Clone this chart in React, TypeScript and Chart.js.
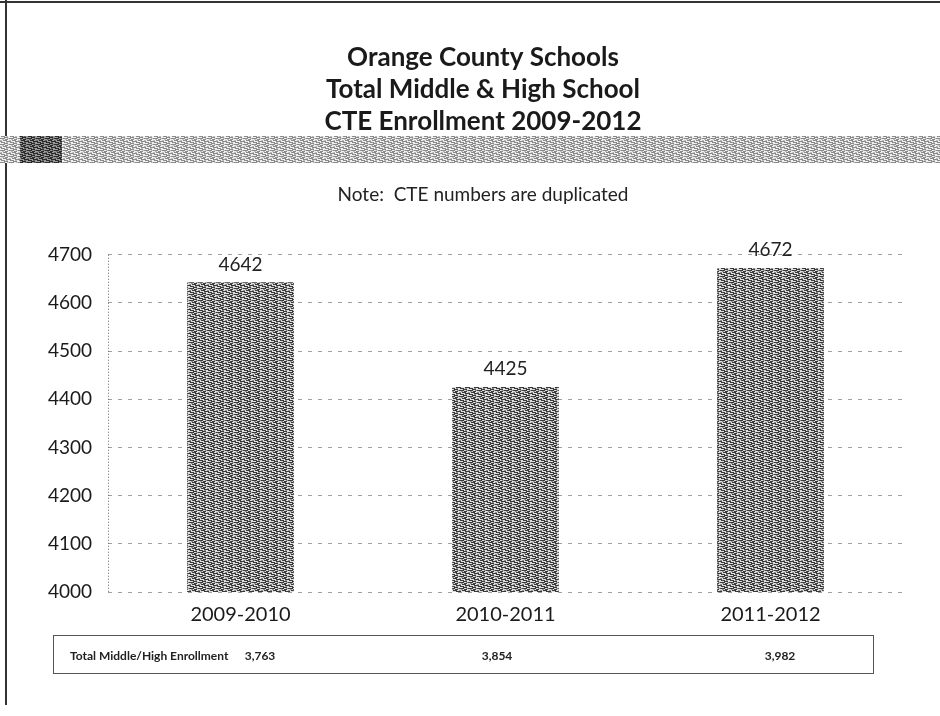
import React, { useEffect, useRef } from "react";
import { Chart, registerables } from "chart.js";

Chart.register(...registerables);

const categories = ["2009-2010", "2010-2011", "2011-2012"];
const cteEnrollment = [4642, 4425, 4672];
const totalEnrollment = ["3,763", "3,854", "3,982"];
const tableLabel = "Total Middle/High Enrollment";
const titleLines = ["Orange County Schools", "Total Middle & High School", "CTE Enrollment 2009-2012"];
const noteText = "Note:  CTE numbers are duplicated";
const yMin = 4000;
const yMax = 4700;
const yStep = 100;

const FONT = "Lato, 'DejaVu Sans', sans-serif";

function makeTexture(ctx: CanvasRenderingContext2D, light: string, dark: string, mid: string) {
  const c = document.createElement("canvas");
  c.width = 9;
  c.height = 6;
  const g = c.getContext("2d")!;
  g.fillStyle = light;
  g.fillRect(0, 0, 9, 6);
  g.fillStyle = dark;
  g.fillRect(0, 0, 5, 1);
  g.fillRect(5, 1, 3, 1);
  g.fillRect(3, 2, 4, 1);
  g.fillRect(0, 3, 2, 1);
  g.fillRect(6, 3, 3, 1);
  g.fillRect(1, 4, 4, 1);
  g.fillRect(4, 5, 4, 1);
  g.fillStyle = mid;
  g.fillRect(7, 0, 2, 1);
  g.fillRect(0, 2, 2, 1);
  g.fillRect(6, 4, 2, 1);
  g.fillRect(2, 1, 2, 1);
  return ctx.createPattern(c, "repeat")!;
}

export default function App() {
  const ref = useRef<HTMLCanvasElement>(null);

  useEffect(() => {
    const canvas = ref.current!;
    const ctx = canvas.getContext("2d")!;
    const barPattern = makeTexture(ctx, "#dedede", "#3a3a3a", "#909090");
    const bandPattern = makeTexture(ctx, "#f0f0f0", "#8a8a8a", "#bdbdbd");
    const bandDark = makeTexture(ctx, "#9a9a9a", "#2a2a2a", "#666666");

    const decor = {
      id: "decor",
      beforeDraw(chart: any) {
        const c = chart.ctx;
        c.save();
        c.fillStyle = "#fff";
        c.fillRect(0, 0, chart.width, chart.height);
        c.strokeStyle = "#333";
        c.lineWidth = 2;
        c.beginPath();
        c.moveTo(0, 2);
        c.lineTo(chart.width, 2);
        c.moveTo(6, 0);
        c.lineTo(6, 705);
        c.stroke();
        c.fillStyle = bandPattern;
        c.fillRect(0, 136, chart.width, 27);
        c.fillStyle = bandDark;
        c.fillRect(20, 136, 42, 27);
        c.restore();
      },
      afterDraw(chart: any) {
        const c = chart.ctx;
        const area = chart.chartArea;
        c.save();
        c.strokeStyle = "#666";
        c.lineWidth = 1;
        c.setLineDash([1, 2]);
        c.beginPath();
        c.moveTo(area.left + 0.5, area.top);
        c.lineTo(area.left + 0.5, area.bottom);
        c.stroke();
        c.setLineDash([]);
        c.strokeStyle = "#555";
        c.strokeRect(53.5, 635.5, 820, 38);
        c.fillStyle = "#222";
        c.font = `bold 12px ${FONT}`;
        c.textBaseline = "middle";
        c.textAlign = "left";
        c.fillText(tableLabel, 70, 656);
        const valueX = [260, 497, 780];
        c.textAlign = "center";
        totalEnrollment.forEach((t, i) => {
          c.fillText(t, valueX[i], 656);
        });
        c.restore();
      },
      afterDatasetsDraw(chart: any) {
        const c = chart.ctx;
        const meta = chart.getDatasetMeta(0);
        c.save();
        c.fillStyle = "#222";
        c.font = `19px ${FONT}`;
        c.textAlign = "center";
        c.textBaseline = "middle";
        meta.data.forEach((bar: any, i: number) => {
          c.fillText(String(cteEnrollment[i]), bar.x, bar.y - 18);
        });
        c.restore();
      },
    };

    const chart = new Chart(canvas, {
      type: "bar",
      data: {
        labels: categories,
        datasets: [
          {
            data: cteEnrollment,
            backgroundColor: barPattern,
            borderWidth: 0,
            barThickness: 106,
          },
        ],
      },
      options: {
        animation: false,
        responsive: true,
        maintainAspectRatio: false,
        layout: { padding: { left: 26, right: 0, top: 0, bottom: 84 } },
        plugins: {
          legend: { display: false },
          tooltip: { enabled: false },
          title: {
            display: true,
            text: titleLines,
            color: "#1a1a1a",
            font: { family: FONT, size: 26, weight: "bold", lineHeight: 1.23 },
            padding: { top: 42, bottom: 46 },
          },
          subtitle: {
            display: true,
            text: noteText,
            color: "#222",
            font: { family: FONT, size: 19, lineHeight: 1.2 },
            padding: { top: 0, bottom: 48 },
          },
        },
        scales: {
          x: {
            grid: { display: false, drawTicks: false },
            border: { display: false },
            afterFit: (s: any) => {
              s.height = 40;
            },
            ticks: {
              autoSkip: false,
              maxRotation: 0,
              padding: 11,
              color: "#1a1a1a",
              font: { family: FONT, size: 20 },
            },
          },
          y: {
            min: yMin,
            max: yMax,
            grid: { color: "#a0a0a0", lineWidth: 1, drawTicks: false },
            border: { display: false, dash: [4, 6] },
            afterFit: (s: any) => {
              s.width = 82;
            },
            ticks: {
              stepSize: yStep,
              padding: 16,
              color: "#1a1a1a",
              font: { family: FONT, size: 19 },
              callback: (v: any) => String(v),
            },
          },
          yRight: {
            type: "linear",
            position: "right",
            min: yMin,
            max: yMax,
            grid: { display: false, drawTicks: false },
            border: { display: false },
            ticks: { display: false },
            afterFit: (s: any) => {
              s.width = 37;
            },
          },
        },
      },
      plugins: [decor],
    });
    return () => chart.destroy();
  }, []);

  return (
    <div style={{ position: "absolute", left: 0, top: 0, width: 940, height: 716 }}>
      <canvas ref={ref} />
    </div>
  );
}
